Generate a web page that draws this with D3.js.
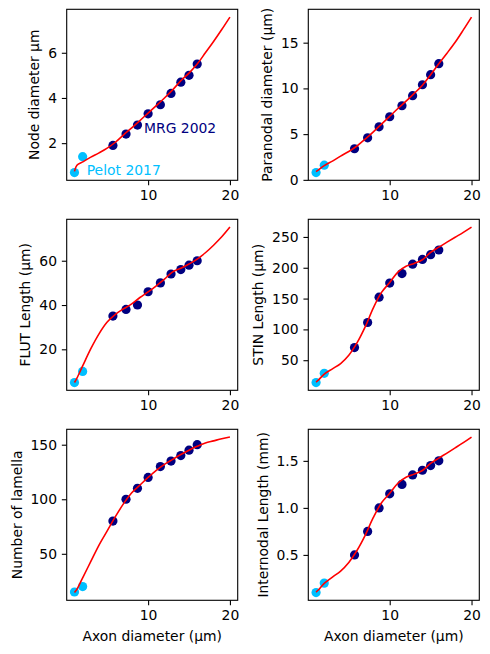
<!DOCTYPE html>
<html>
<head>
<meta charset="utf-8">
<script src="https://cdn.jsdelivr.net/npm/d3@7"></script>
<style>
  body { margin: 0; background: #fff; }
  text { font-family: "DejaVu Sans", sans-serif; }
</style>
</head>
<body>
<script>
// measured points: MRG 2002 table and Pelot 2017 small fibres
var mrgAxon = [5.7, 7.3, 8.7, 10.0, 11.5, 12.8, 14.0, 15.0, 16.0];
var pelotAxon = [1, 2];

var mrgNode = [1.9, 2.4, 2.8, 3.3, 3.7, 4.2, 4.7, 5.0, 5.5];
var pelotNode = [0.7, 1.4];
var mrgParanode = [3.4, 4.6, 5.8, 6.9, 8.1, 9.2, 10.4, 11.5, 12.7];
var pelotParanode = [0.8, 1.6];
var mrgFlut = [35, 38, 40, 46, 50, 54, 56, 58, 60];
var pelotFlut = [5, 10];
var mrgStin = [70.5, 111.2, 152.2, 175.2, 190.5, 205.8, 213.5, 221.2, 228.8];
var pelotStin = [13.8, 28.8];
var mrgLamella = [80, 100, 110, 120, 130, 135, 140, 145, 150];
var pelotLamella = [15, 20];
var mrgInternode = [0.5, 0.75, 1.0, 1.15, 1.25, 1.35, 1.4, 1.45, 1.5];
var pelotInternode = [0.1, 0.2];

// fitted curves
var fitAxon = [1, 1.3, 2, 3, 4, 5, 6, 7, 8, 9, 10, 11, 12, 13, 14, 15, 16, 17, 18, 19, 20];
var fitNode = [0.75, 1.02, 1.17, 1.38, 1.57, 1.78, 2.04, 2.37, 2.68, 3.0, 3.33, 3.66, 4.0, 4.36, 4.76, 5.1, 5.5, 6.0, 6.5, 7.03, 7.58];
var fitParanode = [0.9, 1.1, 1.55, 2.05, 2.6, 3.1, 3.7, 4.45, 5.25, 6.1, 6.95, 7.8, 8.6, 9.45, 10.35, 11.5, 12.7, 13.85, 15.05, 16.4, 17.8];
var fitFlut = [5, 7, 12.5, 20.3, 27, 32.3, 35.8, 38.3, 40.5, 43.4, 45.9, 48.7, 51.7, 55.0, 56.6, 58.5, 60.7, 63.6, 67, 70.8, 75.2];
var fitStin = [14.5, 18, 27.5, 36, 44.5, 58, 78, 104, 135, 160, 176, 193, 202.5, 207, 213, 225, 233.5, 241.5, 249.5, 257.5, 266];
var fitLamella = [14.5, 17.5, 28, 43, 58, 71, 84, 96, 106, 113, 120, 126.5, 132, 136.5, 141, 145, 148.5, 151.5, 153.5, 155.5, 157];
var fitInternode = [0.104, 0.129, 0.197, 0.264, 0.328, 0.42, 0.547, 0.708, 0.898, 1.054, 1.155, 1.262, 1.325, 1.359, 1.398, 1.474, 1.529, 1.583, 1.638, 1.694, 1.753];

var xTicks = [10, 20];
var nodeTicks = [2, 4, 6];
var paranodeTicks = [0, 5, 10, 15];
var flutTicks = [20, 40, 60];
var stinTicks = [50, 100, 150, 200, 250];
var lamellaTicks = [50, 100, 150];
var internodeTicks = [0.5, 1.0, 1.5];

var width = 490;
var height = 654;
var panelW = 171;
var panelH = 171;
var colX = [66.7, 308.3];
var rowY = [9.3, 219.3, 429.3];

var fontSize = 13.9;
var tickLen = 4.86;
var mrgColor = "navy";
var pelotColor = "deepskyblue";

var panels = [
  {label: "Node diameter µm", mrg: mrgNode, pelot: pelotNode, fit: fitNode, ticks: nodeTicks, fmt: d3.format("d")},
  {label: "Paranodal diameter (µm)", mrg: mrgParanode, pelot: pelotParanode, fit: fitParanode, ticks: paranodeTicks, fmt: d3.format("d")},
  {label: "FLUT Length (µm)", mrg: mrgFlut, pelot: pelotFlut, fit: fitFlut, ticks: flutTicks, fmt: d3.format("d")},
  {label: "STIN Length (µm)", mrg: mrgStin, pelot: pelotStin, fit: fitStin, ticks: stinTicks, fmt: d3.format("d")},
  {label: "Number of lamella", mrg: mrgLamella, pelot: pelotLamella, fit: fitLamella, ticks: lamellaTicks, fmt: d3.format("d")},
  {label: "Internodal Length (mm)", mrg: mrgInternode, pelot: pelotInternode, fit: fitInternode, ticks: internodeTicks, fmt: d3.format(".1f")}
];

var svg = d3.select("body")
            .append("svg")
            .attr("width", width)
            .attr("height", height)
            .style("background", "#fff");

// shared x scale, matplotlib style 5% margin on [1, 20]
var xExt = d3.extent(fitAxon.concat(pelotAxon, mrgAxon));
var xPad = (xExt[1] - xExt[0]) * 0.05;
var xScale = d3.scaleLinear()
               .domain([xExt[0] - xPad, xExt[1] + xPad])
               .range([0, panelW]);

panels.forEach(function(p, i) {
  var col = i % 2;
  var row = Math.floor(i / 2);
  var g = svg.append("g")
             .attr("transform", `translate(${colX[col]}, ${rowY[row]})`);

  var all = p.mrg.concat(p.pelot, p.fit);
  var yExt = d3.extent(all);
  var yPad = (yExt[1] - yExt[0]) * 0.05;
  var yScale = d3.scaleLinear()
                 .domain([yExt[0] - yPad, yExt[1] + yPad])
                 .range([panelH, 0]);

  // axes
  var xAxis = g.append("g")
               .attr("transform", `translate(0, ${panelH})`)
               .call(d3.axisBottom(xScale).tickValues(xTicks).tickSize(tickLen).tickPadding(tickLen).tickSizeOuter(0));

  var yAxis = g.append("g")
               .call(d3.axisLeft(yScale).tickValues(p.ticks).tickFormat(p.fmt).tickSize(tickLen).tickPadding(tickLen).tickSizeOuter(0));

  [xAxis, yAxis].forEach(function(a) {
    a.select(".domain").remove();
    a.selectAll("line").attr("stroke", "#000").attr("stroke-width", 1.1);
    a.selectAll("text").attr("fill", "#000").style("font-size", fontSize + "px").style("font-family", "DejaVu Sans");
  });

  // frame
  g.append("rect")
   .attr("width", panelW)
   .attr("height", panelH)
   .attr("fill", "none")
   .attr("stroke", "#000")
   .attr("stroke-width", 1.1);

  // points
  g.selectAll("circle.mrg")
   .data(mrgAxon)
   .enter()
   .append("circle")
   .attr("class", "mrg")
   .attr("cx", function(d) { return xScale(d); })
   .attr("cy", function(d, j) { return yScale(p.mrg[j]); })
   .attr("r", 4.6)
   .attr("fill", mrgColor);

  g.selectAll("circle.pelot")
   .data(pelotAxon)
   .enter()
   .append("circle")
   .attr("class", "pelot")
   .attr("cx", function(d) { return xScale(d); })
   .attr("cy", function(d, j) { return yScale(p.pelot[j]); })
   .attr("r", 4.6)
   .attr("fill", pelotColor);

  // fitted curve on top
  var line = d3.line()
               .x(function(d) { return xScale(d); })
               .y(function(d, j) { return yScale(p.fit[j]); })
               .curve(d3.curveCatmullRom.alpha(0.5));

  g.append("path")
   .datum(fitAxon)
   .attr("d", line)
   .attr("fill", "none")
   .attr("stroke", "red")
   .attr("stroke-width", 1.6);

  // y label, placed left of the tick labels like matplotlib does
  var bb = yAxis.node().getBBox();
  g.append("text")
   .attr("transform", "rotate(-90)")
   .attr("x", -panelH / 2)
   .attr("y", bb.x - 5.6 - 3.3)
   .attr("text-anchor", "middle")
   .style("font-size", fontSize + "px")
   .text(p.label);

  if (row === 2) {
    g.append("text")
     .attr("x", panelW / 2)
     .attr("y", panelH + 41)
     .attr("text-anchor", "middle")
     .style("font-size", fontSize + "px")
     .text("Axon diameter (µm)");
  }

  if (i === 0) {
    g.append("text")
     .attr("x", xScale(9.5))
     .attr("y", yScale(2.45))
     .attr("fill", mrgColor)
     .style("font-size", fontSize + "px")
     .text("MRG 2002");
    g.append("text")
     .attr("x", xScale(2.5))
     .attr("y", yScale(0.58))
     .attr("fill", pelotColor)
     .style("font-size", fontSize + "px")
     .text("Pelot 2017");
  }
});
</script>
</body>
</html>
